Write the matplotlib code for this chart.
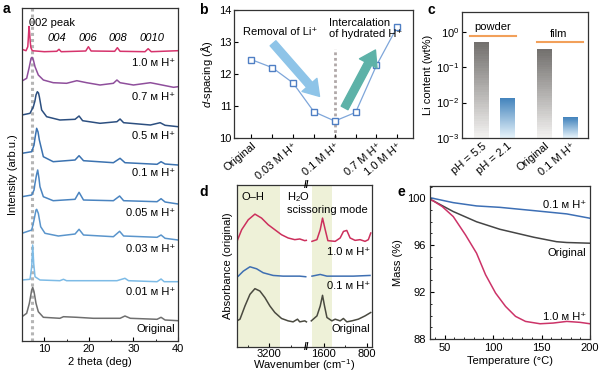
import matplotlib.pyplot as plt
import numpy as np
from matplotlib.ticker import FixedLocator, MultipleLocator, NullLocator

plt.rcParams['font.family'] = ['Liberation Sans', 'DejaVu Sans']
plt.rcParams['font.size'] = 8
plt.rcParams['mathtext.fontset'] = 'custom'
plt.rcParams['mathtext.rm'] = 'Liberation Sans'
plt.rcParams['mathtext.it'] = 'Liberation Sans:italic'
plt.rcParams['axes.linewidth'] = 0.9
plt.rcParams['axes.edgecolor'] = '#333333'
plt.rcParams['xtick.direction'] = 'in'
plt.rcParams['ytick.direction'] = 'in'
plt.rcParams['xtick.major.size'] = 3
plt.rcParams['ytick.major.size'] = 3
plt.rcParams['xtick.minor.size'] = 1.6
plt.rcParams['ytick.minor.size'] = 1.6

# ---- a: XRD patterns (offset, arb. units) ----
xrd_labels = ['1.0 ᴍ H⁺', '0.7 ᴍ H⁺', '0.5 ᴍ H⁺', '0.1 ᴍ H⁺',
              '0.05 ᴍ H⁺', '0.03 ᴍ H⁺', '0.01 ᴍ H⁺', 'Original']
xrd_10_tt = [5.0, 5.9, 6.3, 6.45, 6.57, 6.7, 6.85, 7.0, 7.3, 10.0, 12.8, 13.3, 13.8,
             19.3, 19.9, 20.5, 25.8, 26.4, 27.0, 32.6, 33.3, 34.0, 40.0]
xrd_10_int = [291.7, 290.3, 294.3, 305.0, 314.5, 309.0, 299.0, 293.3, 290.3, 289.3, 289.7, 291.7, 289.3,
              290.0, 294.3, 290.0, 289.7, 293.3, 289.7, 289.3, 292.3, 289.3, 290.3]
xrd_07_tt = [5.0, 6.05, 6.65, 7.03, 7.25, 7.55, 7.92, 8.66, 9.79, 12.0, 15.0, 17.3,
             19.5, 22.5, 25.5, 26.3, 27.0, 30.0, 33.8, 35.3, 39.0, 40.0]
xrd_07_int = [260.0, 262.7, 274.3, 282.7, 283.7, 281.0, 274.3, 266.0, 261.0, 258.3, 257.7, 260.3,
              258.3, 256.0, 257.7, 261.0, 258.3, 256.0, 258.3, 257.0, 253.7, 254.3]
xrd_05_tt = [5.0, 6.8, 7.55, 7.9, 8.14, 8.44, 8.7, 8.89, 9.41, 10.53, 13.5, 16.9, 17.8, 18.6,
             22.5, 26.3, 27.0, 27.8, 33.8, 36.0, 37.1, 40.0]
xrd_05_int = [226.0, 227.7, 234.3, 240.0, 246.0, 249.3, 248.0, 244.3, 231.0, 224.3, 221.0, 221.7, 225.0, 220.3,
              217.7, 219.3, 222.0, 218.3, 216.0, 218.3, 215.7, 214.3]
xrd_01_tt = [5.0, 7.18, 7.7, 7.92, 8.29, 8.6, 8.89, 9.79, 12.0, 16.9, 17.8, 18.8,
             25.5, 27.0, 28.1, 35.3, 36.2, 37.1, 40.0]
xrd_01_int = [187.7, 189.3, 196.0, 203.0, 212.7, 209.0, 201.0, 184.3, 179.3, 181.0, 185.3, 180.3,
              178.3, 182.7, 178.3, 176.7, 179.3, 177.0, 176.0]
xrd_005_tt = [5.0, 7.18, 7.7, 7.92, 8.25, 8.52, 8.8, 9.03, 9.79, 12.0, 16.9, 17.8, 18.8,
              25.5, 26.9, 27.8, 35.3, 36.2, 37.1, 40.0]
xrd_005_int = [144.3, 146.0, 151.0, 157.7, 166.0, 171.0, 163.0, 154.3, 144.3, 140.3, 141.7, 148.7, 141.0,
               140.3, 145.0, 140.3, 139.3, 142.3, 139.0, 137.0]
xrd_003_tt = [5.0, 7.18, 7.7, 8.14, 8.29, 8.66, 9.19, 10.16, 13.15, 16.9, 17.8, 18.8,
              25.5, 26.9, 27.8, 35.3, 36.2, 37.1, 40.0]
xrd_003_int = [107.7, 111.0, 121.0, 131.0, 131.7, 127.7, 114.3, 107.7, 105.0, 107.0, 111.7, 106.0,
               104.3, 109.7, 105.0, 103.7, 106.0, 102.7, 101.0]
xrd_001_tt = [5.0, 6.8, 7.18, 7.4, 7.62, 7.92, 9.03, 13.5, 14.3, 15.0,
              26.3, 28.1, 28.9, 35.3, 36.2, 36.9, 40.0]
xrd_001_int = [61.0, 61.7, 74.3, 96.0, 77.7, 64.3, 61.0, 60.3, 61.7, 60.3,
               60.3, 62.7, 60.3, 59.3, 62.0, 59.3, 59.3]
xrd_orig_tt = [5.0, 6.05, 6.65, 7.18, 7.4, 7.7, 8.14, 8.66, 9.79, 13.5, 14.3, 17.3,
               21.0, 27.0, 28.1, 29.3, 35.3, 36.2, 37.1, 40.0]
xrd_orig_int = [24.3, 27.7, 37.7, 51.0, 53.7, 49.3, 37.7, 29.3, 23.7, 22.7, 24.3, 23.7,
                22.7, 22.7, 25.0, 22.7, 21.7, 23.7, 21.0, 20.3]
xrd_label_y = [278, 244, 205, 168, 128, 92, 49, 12]
xrd_peak_names = ['004', '006', '008', '0010']
xrd_peak_tt = [12.85, 19.8, 26.5, 34.2]

# ---- b: d-spacing ----
d_categories = ['Original', '0.01 M H⁺', '0.03 M H⁺', '0.05 M H⁺',
                '0.1 M H⁺', '0.5 M H⁺', '0.7 M H⁺', '1.0 M H⁺']
d_shown = [True, False, True, False, True, False, True, True]
d_spacing = [12.45, 12.2, 11.72, 10.82, 10.53, 10.8, 12.27, 13.48]

# ---- c: Li content ----
li_labels = ['pH = 5.5', 'pH = 2.1', 'Original', '0.1 M H⁺']
li_pos = [0, 1, 2.46, 3.46]
li_content = [0.52, 0.0133, 0.326, 0.0038]
li_groups = ['powder', 'film']

# ---- d: FTIR (nan = axis break) ----
ftir_10_wn = [3800, 3713, 3590, 3465, 3341, 3217, 3093, 2969, 2845, 2721, 2628, 2535, 2505, np.nan,
              1822, 1729, 1667, 1624, 1574, 1524, 1388, 1295, 1233, 1171, 1109, 1016, 923, 830, 768, 723]
ftir_10_abs = [106.3, 118.0, 128.0, 133.7, 129.7, 123.0, 118.0, 113.0, 109.7, 108.0, 108.7, 107.0, 107.3, np.nan,
               106.3, 108.0, 118.0, 129.7, 118.0, 107.0, 106.3, 109.7, 116.3, 117.3, 109.7, 107.3, 108.0, 106.3, 108.0, 114.7]
ftir_01_wn = [3776, 3683, 3558, 3434, 3311, 3125, 2939, 2752, 2628, 2516, np.nan,
              1821, 1667, 1542, 1295, 1048, 737]
ftir_01_abs = [71.3, 76.3, 80.7, 78.7, 74.7, 72.0, 71.3, 71.3, 71.3, 70.7, np.nan,
               71.3, 73.0, 71.3, 71.3, 71.3, 72.0]
ftir_orig_wn = [3800, 3744, 3651, 3558, 3465, 3372, 3279, 3186, 3093, 2968, 2845, 2752, 2670, 2628, 2535, 2503, np.nan,
                1834, 1728, 1667, 1624, 1587, 1542, 1449, 1388, 1295, 1234, 1170, 1077, 955, 830, 724]
ftir_orig_abs = [26.3, 28.0, 41.3, 53.0, 58.7, 56.3, 49.7, 41.3, 34.7, 28.7, 26.3, 25.3, 28.0, 25.3, 26.3, 25.3, np.nan,
                 26.3, 31.3, 41.3, 52.0, 41.3, 29.7, 26.3, 28.0, 26.3, 28.7, 25.3, 26.3, 28.0, 31.3, 34.7]
ftir_bands = [(3800, 3000), (1820, 1450)]

# ---- e: TGA ----
tga_01_T = [35, 38, 59, 83, 107, 142, 176, 200]
tga_01_mass = [100.05, 100.0, 99.63, 99.35, 99.23, 98.95, 98.67, 98.3]
tga_orig_T = [35, 38, 59, 83, 107, 142, 165.5, 176, 200]
tga_orig_mass = [99.9, 99.8, 98.87, 98.0, 97.36, 96.68, 96.3, 96.23, 96.17]
tga_10_T = [35, 38, 47.7, 59, 71.6, 83, 92.3, 102.6, 112.9, 123.2, 133.5, 148.5, 162, 176, 189.7, 200]
tga_10_mass = [99.85, 99.8, 99.29, 98.44, 96.88, 95.32, 93.48, 91.92, 90.78, 89.93, 89.5, 89.3, 89.36, 89.5, 89.42, 89.3]

W, H = 600, 372
fig = plt.figure(figsize=(6.0, 3.72), dpi=100)


def box(left, right, top, bottom):
    return [left / W, 1 - bottom / H, (right - left) / W, (bottom - top) / H]


def letter(x, y, s):
    fig.text(x / W, 1 - y / H, s, fontsize=10, fontweight='bold', ha='left', va='center')


# panel a
ax = fig.add_axes(box(22, 178, 8, 341))
xrd_tt = [xrd_10_tt, xrd_07_tt, xrd_05_tt, xrd_01_tt, xrd_005_tt, xrd_003_tt, xrd_001_tt, xrd_orig_tt]
xrd_int = [xrd_10_int, xrd_07_int, xrd_05_int, xrd_01_int, xrd_005_int, xrd_003_int, xrd_001_int, xrd_orig_int]
xrd_colors = ['#d6336c', '#8f4f9c', '#2c4f80', '#3b72b0', '#4a84c0', '#5a95cc', '#7dbbe6', '#6f6f6f']
ax.axvline(7.3, color='#b5b5b5', linestyle=(0, (1, 1)), linewidth=2.2, zorder=1)
for tt, inten, c in zip(xrd_tt, xrd_int, xrd_colors):
    ax.plot(tt, inten, color=c, linewidth=1.1, zorder=2)
for lab, y in zip(xrd_labels, xrd_label_y):
    ax.text(39.3, y, lab, ha='right', va='center', fontsize=8)
ax.text(6.5, 318, '002 peak', ha='left', va='center', fontsize=8)
for name, tt in zip(xrd_peak_names, xrd_peak_tt):
    ax.text(tt, 303, name, ha='center', va='center', fontsize=8, style='italic')
ax.set_xlim(5, 40)
ax.set_ylim(0, 333)
ax.set_yticks([])
ax.set_xticks([10, 20, 30, 40])
ax.xaxis.set_minor_locator(MultipleLocator(5))
ax.set_xlabel('2 theta (deg)', labelpad=2)
ax.set_ylabel('Intensity (arb.u.)', labelpad=3)
ax.tick_params(pad=2)
letter(3, 9, 'a')

# panel b
ax = fig.add_axes(box(234, 413, 10, 138))
xb = np.arange(len(d_spacing))
ax.plot([4, 4], [10, 12.77], color='#b0a8a8', linestyle=(0, (1, 1)), linewidth=2.0, zorder=1)
ax.plot(xb, d_spacing, color='#7ea6da', linewidth=0.9, marker='s', markersize=5,
        markerfacecolor='white', markeredgecolor='#4f7fc4', markeredgewidth=1.0, zorder=3)
ax.annotate('', xy=(3.27, 11.3), xytext=(1.04, 12.96),
            arrowprops=dict(arrowstyle='simple,head_width=1.3,head_length=1.0,tail_width=0.5',
                            color='#8ec4e8', shrinkA=0, shrinkB=0, mutation_scale=11))
ax.annotate('', xy=(5.95, 12.75), xytext=(4.47, 10.94),
            arrowprops=dict(arrowstyle='simple,head_width=1.3,head_length=1.0,tail_width=0.5',
                            color='#5db2a8', shrinkA=0, shrinkB=0, mutation_scale=11))
ax.text(-0.4, 13.3, 'Removal of Li⁺', ha='left', va='center', fontsize=8)
ax.text(3.72, 13.43, 'Intercalation\nof hydrated H⁺', ha='left', va='center', fontsize=8,
        linespacing=1.1)
ax.set_xlim(-0.83, 7.75)
ax.set_ylim(10, 14)
ax.set_yticks([10, 11, 12, 13, 14])
ax.set_xticks(xb)
ax.set_xticklabels([c if s else '' for c, s in zip(d_categories, d_shown)],
                   rotation=40, ha='right', rotation_mode='anchor')
ax.set_ylabel('$d$-spacing (Å)', labelpad=3)
ax.tick_params(pad=2)
letter(199, 10, 'b')

# panel c
ax = fig.add_axes(box(462, 588, 12, 138))
gray_top, gray_bot = np.array([0.45, 0.44, 0.43]), np.array([0.95, 0.945, 0.94])
blue_top, blue_bot = np.array([0.27, 0.52, 0.74]), np.array([0.90, 0.95, 0.98])
n_seg = 40
for i, (p, v) in enumerate(zip(li_pos, li_content)):
    top_c, bot_c = (gray_top, gray_bot) if i % 2 == 0 else (blue_top, blue_bot)
    edges = np.logspace(-3, np.log10(v), n_seg + 1)
    for k in range(n_seg):
        f = k / (n_seg - 1)
        col = bot_c + (top_c - bot_c) * f
        ax.bar(p, edges[k + 1] - edges[k], bottom=edges[k], width=0.58,
               color=col, linewidth=0)
ax.plot([-0.46, 1.32], [0.76, 0.76], color='#f2a05a', linewidth=1.5)
ax.plot([2.14, 3.93], [0.5, 0.5], color='#f2a05a', linewidth=1.5)
ax.text(0.42, 1.38, li_groups[0], ha='center', va='center', fontsize=8)
ax.text(3.0, 0.85, li_groups[1], ha='center', va='center', fontsize=8)
ax.set_yscale('log')
ax.set_ylim(1e-3, 3.6)
ax.set_xlim(-0.77, 4.14)
ax.yaxis.set_minor_locator(NullLocator())
ax.set_yticks([1e-3, 1e-2, 1e-1, 1e0])
ax.set_xticks(li_pos)
ax.set_xticklabels(li_labels, rotation=40, ha='right', rotation_mode='anchor')
ax.tick_params(axis='x', length=0)
ax.set_ylabel('Li content (wt%)', labelpad=2)
ax.tick_params(pad=2)
letter(428, 10, 'c')

# panel d
ax = fig.add_axes(box(237, 372, 185, 347))
wn_knots = [700, 1920, 2500, 3800]
pos_knots = [0, 65.6, 65.7, 135.6]


def wn_fwd(w):
    return np.interp(w, wn_knots, pos_knots)


def wn_inv(t):
    return np.interp(t, pos_knots, wn_knots)


ax.set_xscale('function', functions=(wn_fwd, wn_inv))
for lo, hi in ftir_bands:
    ax.axvspan(lo, hi, color='#eef1d8', linewidth=0, zorder=0)
ax.plot(ftir_10_wn, ftir_10_abs, color='#cc2f5c', linewidth=1.1)
ax.plot(ftir_01_wn, ftir_01_abs, color='#3e6fb2', linewidth=1.1)
ax.plot(ftir_orig_wn, ftir_orig_abs, color='#4a4a40', linewidth=1.1)
ax.text(3500, 151, 'O–H', ha='center', va='center', fontsize=8)
ax.text(2870, 151, 'H$_2$O', ha='left', va='center', fontsize=8)
ax.text(2870, 138, 'scissoring mode', ha='left', va='center', fontsize=8)
ax.text(737, 96, '1.0 ᴍ H⁺', ha='right', va='center', fontsize=8)
ax.text(737, 61, '0.1 ᴍ H⁺', ha='right', va='center', fontsize=8)
ax.text(737, 18, 'Original', ha='right', va='center', fontsize=8)
for yb in (0.0, 1.0):
    ax.text(0.516, yb, '//', transform=ax.transAxes, ha='center', va='center',
            fontsize=7, fontweight='bold')
ax.set_xlim(3800, 700)
ax.set_ylim(0, 163)
ax.set_yticks([])
ax.xaxis.set_major_locator(FixedLocator([3200, 1600, 800]))
ax.xaxis.set_minor_locator(FixedLocator([3600, 2800, 1200]))
ax.set_xlabel('Wavenumber (cm$^{-1}$)', labelpad=-1)
ax.set_ylabel('Absorbance (original)', labelpad=3)
ax.tick_params(pad=1.5)
letter(199, 192, 'd')

# panel e
ax = fig.add_axes(box(430, 590, 186, 339))
ax.plot(tga_01_T, tga_01_mass, color='#3d6fb5', linewidth=1.1)
ax.plot(tga_orig_T, tga_orig_mass, color='#454545', linewidth=1.1)
ax.plot(tga_10_T, tga_10_mass, color='#cc3368', linewidth=1.1)
ax.text(196, 99.43, '0.1 ᴍ H⁺', ha='right', va='center', fontsize=8)
ax.text(196, 95.33, 'Original', ha='right', va='center', fontsize=8)
ax.text(196, 89.87, '1.0 ᴍ H⁺', ha='right', va='center', fontsize=8)
ax.set_xlim(35, 200)
ax.set_ylim(88, 101.05)
ax.set_xticks([50, 100, 150, 200])
ax.set_yticks([88, 92, 96, 100])
ax.xaxis.set_minor_locator(MultipleLocator(10))
ax.yaxis.set_minor_locator(MultipleLocator(1))
ax.set_xlabel('Temperature (°C)', labelpad=2)
ax.set_ylabel('Mass (%)', labelpad=3)
ax.tick_params(pad=3)
letter(398, 192, 'e')

fig.savefig('out.png', dpi=100)
